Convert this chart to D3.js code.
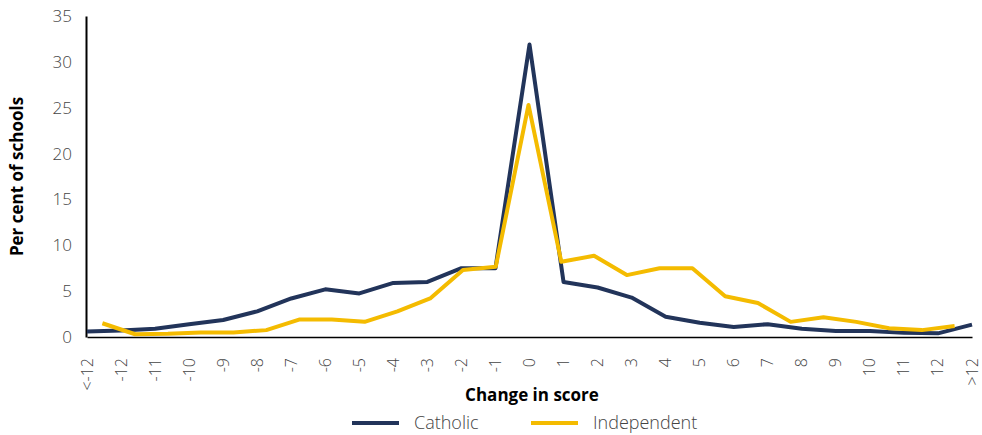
<!DOCTYPE html>
<html>
<head>
<meta charset="utf-8">
<script src="https://cdn.jsdelivr.net/npm/d3@7"></script>
<style>
body { margin: 0; background: #fff; }
svg { font-family: "Open Sans", sans-serif; }
</style>
</head>
<body>
<svg width="982" height="435"></svg>
<script>
let categories = ['<-12','-12','-11','-10','-9','-8','-7','-6','-5','-4','-3','-2','-1','0',
	'1','2','3','4','5','6','7','8','9','10','11','12','>12'];
let catholic = [0.6,0.7,0.9,1.4,1.85,2.8,4.2,5.2,4.75,5.9,6.0,7.5,7.5,31.9,
	6.0,5.4,4.3,2.2,1.55,1.1,1.4,0.9,0.65,0.65,0.45,0.4,1.35];
let independent = [1.5,0.3,0.35,0.5,0.5,0.75,1.9,1.9,1.65,2.8,4.2,7.3,7.65,25.3,
	8.2,8.85,6.75,7.5,7.5,4.45,3.7,1.65,2.15,1.65,0.95,0.75,1.2];
let yTicks = [0,5,10,15,20,25,30,35];

let svg = d3.select('svg');
let plotLeft = 86, plotRight = 971, plotTop = 16, plotBottom = 337;
let navy = '#22345a', gold = '#f4bb00';

// Catholic sits on the tick marks, Independent between them (two category axes)
let xOn = d3.scalePoint().domain(categories).range([plotLeft + 1, plotRight + 1]);
let xBand = d3.scaleBand().domain(categories).range([plotLeft, plotRight]);
let y = d3.scaleLinear().domain([0, 35]).range([plotBottom, plotTop]);

// y axis
let yAxis = svg.append('g')
	.attr('transform', 'translate(' + plotLeft + ',0)')
	.call(d3.axisLeft(y).tickValues(yTicks).tickSize(0).tickPadding(14));
yAxis.select('.domain').attr('stroke', '#000').attr('stroke-width', 2);
yAxis.selectAll('text')
	.attr('font-size', 17)
	.attr('fill', '#444')
	.attr('font-weight', 300)
	.attr('font-family', '"Open Sans", sans-serif');

// x axis
let xAxis = svg.append('g')
	.attr('transform', 'translate(0,' + plotBottom + ')')
	.call(d3.axisBottom(xOn).tickSize(0).tickPadding(0));
xAxis.select('.domain').attr('stroke', '#000').attr('stroke-width', 1.5);
xAxis.selectAll('text')
	.attr('font-size', 16)
	.attr('fill', '#444')
	.attr('font-weight', 300)
	.attr('font-family', '"Open Sans", sans-serif')
	.attr('text-anchor', 'end')
	.attr('dy', null)
	.attr('transform', 'translate(5,21) rotate(-90)');

let line = function(xs, offset) {
	return d3.line()
		.x(function(d, i) { return xs(categories[i]) + offset; })
		.y(function(d) { return y(d); });
};

svg.append('path')
	.datum(catholic)
	.attr('fill', 'none')
	.attr('stroke', navy)
	.attr('stroke-width', 4)
	.attr('stroke-linejoin', 'round')
	.attr('d', line(xOn, 0));

svg.append('path')
	.datum(independent)
	.attr('fill', 'none')
	.attr('stroke', gold)
	.attr('stroke-width', 4)
	.attr('stroke-linejoin', 'round')
	.attr('d', line(xBand, xBand.bandwidth() / 2));

// axis titles
svg.append('text')
	.attr('transform', 'translate(23,' + ((plotTop + plotBottom) / 2) + ') rotate(-90)')
	.attr('text-anchor', 'middle')
	.attr('font-size', 17)
	.attr('font-weight', 700)
	.attr('fill', '#000')
	.text('Per cent of schools');

svg.append('text')
	.attr('x', 532)
	.attr('y', 401)
	.attr('text-anchor', 'middle')
	.attr('font-size', 17)
	.attr('font-weight', 700)
	.attr('fill', '#000')
	.text('Change in score');

// legend
let legend = [
	{ name: 'Catholic', color: navy, x: 352 },
	{ name: 'Independent', color: gold, x: 531 }
];
legend.forEach(function(d) {
	svg.append('line')
		.attr('x1', d.x).attr('x2', d.x + 47)
		.attr('y1', 423).attr('y2', 423)
		.attr('stroke', d.color)
		.attr('stroke-width', 4);
	svg.append('text')
		.attr('x', d.x + 62)
		.attr('y', 429)
		.attr('font-size', 18)
		.attr('font-weight', 300)
		.attr('fill', '#444')
		.text(d.name);
});
</script>
</body>
</html>
